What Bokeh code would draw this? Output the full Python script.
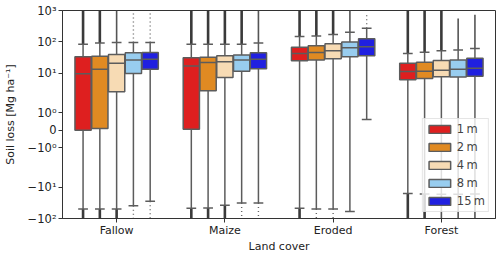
import numpy as np
from bokeh.plotting import figure
from bokeh.models import ColumnDataSource, Range1d, FixedTicker, Legend, LegendItem
from bokeh.embed import file_html
from bokeh.resources import INLINE

# ---------------- data ----------------
categories = ["Fallow", "Maize", "Eroded", "Forest"]
resolutions = ["1\u2009m", "2\u2009m", "4\u2009m", "8\u2009m", "15\u2009m"]
colors = ["#de1f1f", "#e08a22", "#f7dbb4", "#98cdef", "#2020e0"]

# per resolution: values for Fallow, Maize, Eroded, Forest
whisker_low = {
    "1\u2009m": [-50, -47.5, -47.5, -16],
    "2\u2009m": [-50, -46, -50, -16.5],
    "4\u2009m": [-50, -38, -50, -17],
    "8\u2009m": [-39, -32, -60, -17],
    "15\u2009m": [-28, -32, 0.62, -16.5],
}
q1 = {
    "1\u2009m": [0.0, 0.06, 25, 6.2],
    "2\u2009m": [0.1, 2.8, 26.6, 6.9],
    "4\u2009m": [2.6, 7.4, 29, 7.8],
    "8\u2009m": [9.9, 11.7, 34, 7.6],
    "15\u2009m": [13.6, 14.1, 36, 8.1],
}
median = {
    "1\u2009m": [9.7, 17, 43, 11.4],
    "2\u2009m": [13.6, 22, 46, 11.7],
    "4\u2009m": [21, 23.5, 52, 12.6],
    "8\u2009m": [26.6, 26.6, 65, 13.6],
    "15\u2009m": [28, 28, 70, 14.6],
}
q3 = {
    "1\u2009m": [34, 31.5, 68, 21],
    "2\u2009m": [35, 32.5, 75, 22.5],
    "4\u2009m": [40, 36, 87, 25.4],
    "8\u2009m": [45, 38, 100, 26.6],
    "15\u2009m": [46, 45, 125, 30],
}
whisker_high = {
    "1\u2009m": [85, 84, 148, 43],
    "2\u2009m": [93, 84, 155, 47],
    "4\u2009m": [95, 85, 172, 52],
    "8\u2009m": [95, 85, 203, 55],
    "15\u2009m": [95, 93, 270, 62],
}
# extent of outliers (nan = none)
flier_max = {
    "1\u2009m": [1000, 1000, 1000, 1000],
    "2\u2009m": [1000, 1000, 1000, 1000],
    "4\u2009m": [1000, 1000, 1000, 1000],
    "8\u2009m": [1000, 1000, 1000, 560],
    "15\u2009m": [1000, 1000, 860, 730],
}
flier_min = {
    "1\u2009m": [-100, -100, -100, -100],
    "2\u2009m": [-100, -100, -100, -100],
    "4\u2009m": [-100, -100, -100, -100],
    "8\u2009m": [-100, -100, np.nan, -100],
    "15\u2009m": [-100, -100, np.nan, -100],
}
# how densely the outliers are packed: dense / medium / sparse
flier_max_density = {
    "1\u2009m": ["dense", "dense", "dense", "dense"],
    "2\u2009m": ["dense", "dense", "dense", "dense"],
    "4\u2009m": ["medium", "dense", "dense", "dense"],
    "8\u2009m": ["sparse", "dense", "medium", "medium"],
    "15\u2009m": ["sparse", "medium", "sparse", "medium"],
}
flier_min_density = {
    "1\u2009m": ["dense", "dense", "dense", "dense"],
    "2\u2009m": ["dense", "dense", "sparse", "dense"],
    "4\u2009m": ["dense", "dense", "sparse", "medium"],
    "8\u2009m": ["sparse", "sparse", "sparse", "medium"],
    "15\u2009m": ["sparse", "sparse", "sparse", "medium"],
}

y_tick_values = [-100, -10, -1, 0, 1, 10, 100, 1000]
y_tick_labels = ["\u221210\u00b2", "\u221210\u00b9", "\u221210\u2070", "0",
                 "10\u2070", "10\u00b9", "10\u00b2", "10\u00b3"]

# ---------------- symlog transform ----------------
LINTHRESH = 2.0
LINSCALE = 1.0 / (1.0 - 1.0 / 10.0)


def symlog(v):
    v = np.asarray(v, dtype=float)
    a = np.abs(v)
    out = np.where(a <= LINTHRESH, v * LINSCALE,
                   np.sign(v) * LINTHRESH * (LINSCALE + np.log10(np.maximum(a, 1e-12) / LINTHRESH)))
    return out


FONT = "DejaVu Sans"
EDGE = "#5c5c5c"

p = figure(width=500, height=255, output_backend="svg", toolbar_location=None,
           x_range=Range1d(-0.5, 3.5),
           y_range=Range1d(float(symlog(-100)), float(symlog(1000))),
           min_border_left=61, min_border_right=5, min_border_top=10, min_border_bottom=34)
p.grid.visible = False
p.outline_line_color = "#333333"
p.outline_line_width = 1
p.background_fill_color = "white"

box_w = 0.15
step = 0.155
cap_w = 0.09
offsets = [(i - 2) * step for i in range(5)]

flier_styles = {
    "dense": dict(line_color="#3a3a3a", line_width=2.6, line_dash="solid"),
    "medium": dict(line_color="#555555", line_width=1.6, line_dash="solid"),
    "sparse": dict(line_color="#666666", line_width=1.4, line_dash="1 3"),
}

# fliers
fl = {k: dict(x=[], y0=[], y1=[]) for k in flier_styles}
for r, off in zip(resolutions, offsets):
    for ci in range(len(categories)):
        x = ci + off
        if not np.isnan(flier_max[r][ci]):
            d = fl[flier_max_density[r][ci]]
            d["x"].append(x)
            d["y0"].append(float(symlog(whisker_high[r][ci])))
            d["y1"].append(float(symlog(flier_max[r][ci])))
        if not np.isnan(flier_min[r][ci]):
            d = fl[flier_min_density[r][ci]]
            d["x"].append(x)
            d["y0"].append(float(symlog(whisker_low[r][ci])))
            d["y1"].append(float(symlog(flier_min[r][ci])))
for k, d in fl.items():
    if d["x"]:
        p.segment(x0="x", x1="x", y0="y0", y1="y1", source=ColumnDataSource(d), **flier_styles[k])

legend_items = []
for r, off, col in zip(resolutions, offsets, colors):
    xs = [ci + off for ci in range(len(categories))]
    src = ColumnDataSource(dict(
        x=xs,
        xl=[x - cap_w / 2 for x in xs],
        xr=[x + cap_w / 2 for x in xs],
        wlo=symlog(whisker_low[r]),
        q1=symlog(q1[r]),
        med=symlog(median[r]),
        q3=symlog(q3[r]),
        whi=symlog(whisker_high[r]),
        bl=[x - box_w / 2 for x in xs],
        br=[x + box_w / 2 for x in xs],
    ))
    # whiskers
    p.segment(x0="x", x1="x", y0="q3", y1="whi", source=src, line_color=EDGE, line_width=1.5)
    p.segment(x0="x", x1="x", y0="q1", y1="wlo", source=src, line_color=EDGE, line_width=1.5)
    # caps
    p.segment(x0="xl", x1="xr", y0="whi", y1="whi", source=src, line_color=EDGE, line_width=1.5)
    p.segment(x0="xl", x1="xr", y0="wlo", y1="wlo", source=src, line_color=EDGE, line_width=1.5)
    # boxes
    rb = p.vbar(x="x", width=box_w, top="q3", bottom="q1", source=src,
                fill_color=col, line_color=EDGE, line_width=1.5)
    # medians
    p.segment(x0="bl", x1="br", y0="med", y1="med", source=src, line_color=EDGE, line_width=1.5)
    legend_items.append(LegendItem(label=r, renderers=[rb]))

legend = Legend(items=legend_items, location="bottom_right")
legend.label_text_font = FONT
legend.label_text_font_size = "11.5px"
legend.glyph_width = 27
legend.glyph_height = 10
legend.label_height = 13
legend.spacing = 4
legend.padding = 3
legend.margin = 6
legend.label_standoff = 4
legend.border_line_color = "#cccccc"
legend.border_line_width = 1
legend.background_fill_alpha = 0.8
p.add_layout(legend)

# axes
tick_pos = [round(float(symlog(v)), 6) for v in y_tick_values]
p.yaxis.ticker = FixedTicker(ticks=tick_pos, minor_ticks=[])
p.yaxis.major_label_overrides = {t: lab for t, lab in zip(tick_pos, y_tick_labels)}
p.xaxis.ticker = FixedTicker(ticks=list(range(len(categories))), minor_ticks=[])
p.xaxis.major_label_overrides = {i: c for i, c in enumerate(categories)}

p.yaxis.axis_label = "Soil loss [Mg ha\u207b\u00b9]"
p.xaxis.axis_label = "Land cover"
for ax in (p.xaxis, p.yaxis):
    ax.axis_label_text_font = FONT
    ax.axis_label_text_font_size = "11px"
    ax.axis_label_text_font_style = "normal"
    ax.axis_label_text_color = "#222222"
    ax.major_label_text_font = FONT
    ax.major_label_text_font_size = "11px"
    ax.major_label_text_color = "#222222"
    ax.axis_line_color = "#333333"
    ax.major_tick_line_color = "#333333"
    ax.major_tick_out = 4
    ax.major_tick_in = 0
    ax.minor_tick_line_color = None
p.yaxis.major_label_text_font_size = "11.5px"
p.yaxis.major_label_standoff = 2
p.yaxis.axis_label_standoff = 8
p.xaxis.major_label_standoff = 1
p.xaxis.axis_label_standoff = 0
p.xaxis.major_label_text_line_height = 1.0
p.xaxis.axis_label_text_line_height = 1.0

open("out.html", "w").write(file_html(p, INLINE))
